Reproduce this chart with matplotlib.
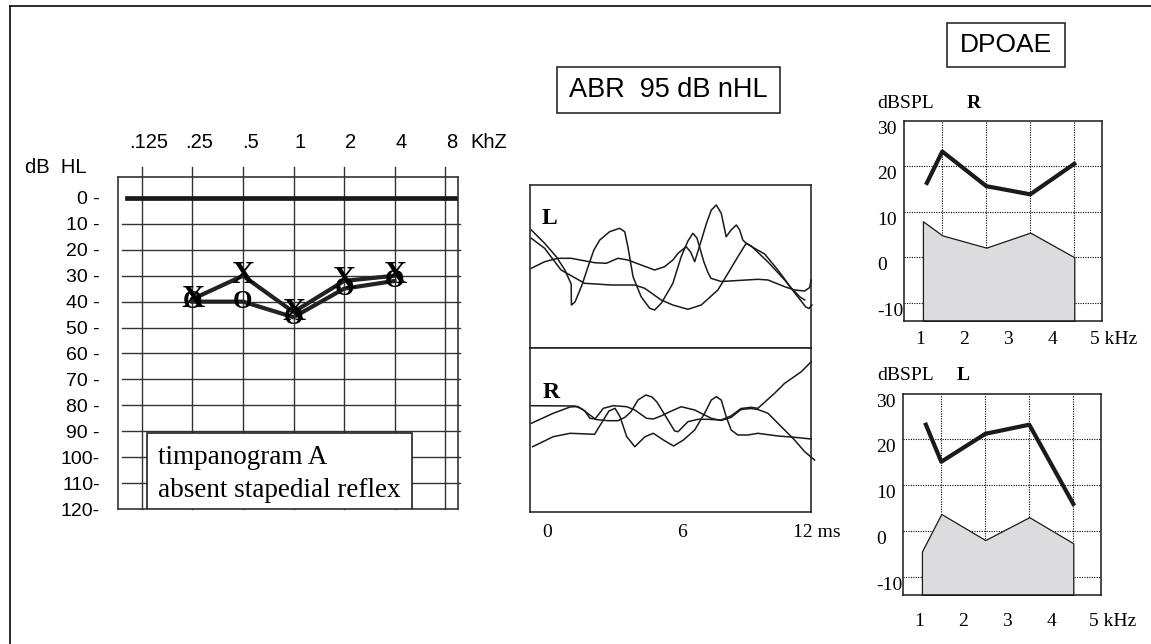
import matplotlib
matplotlib.use("Agg")
import matplotlib.pyplot as plt
from matplotlib.patches import Rectangle
from matplotlib.lines import Line2D
from matplotlib.transforms import blended_transform_factory, ScaledTranslation
from matplotlib.ticker import NullLocator

SANS = "Liberation Sans"
SERIF = "Liberation Serif"
plt.rcParams["font.family"] = [SANS, "DejaVu Sans"]

# ---------------- Audiogram (dB HL) ----------------
freq_khz = [0.25, 0.5, 1, 2, 4]
right_ear_o = [40, 40, 46, 35, 32]
left_ear_x = [39, 30, 44, 32, 30]
audio_freq_ticks = [0.125, 0.25, 0.5, 1, 2, 4, 8]
audio_freq_labels = [".125", ".25", ".5", "1", "2", "4", "8"]
hl_ticks = [0, 10, 20, 30, 40, 50, 60, 70, 80, 90, 100, 110, 120]
hl_labels = ["0 -", "10 -", "20 -", "30 -", "40 -", "50 -", "60 -", "70 -",
             "80 -", "90 -", "100-", "110-", "120-"]

# ---------------- ABR 95 dB nHL (time ms, amplitude a.u.) ----------------
abr_L1_t = [-0.68, -0.09, 0.43, 0.81, 1.09, 1.10, 1.26, 1.57, 1.84, 2.10, 2.36, 2.80,
            3.24, 3.47, 3.61, 3.84, 4.20, 4.58, 4.80, 5.09, 5.39, 5.61, 5.98, 6.28,
            6.50, 6.68, 6.81, 6.99, 7.16, 7.30, 7.76, 8.36, 9.39, 9.84, 10.58, 11.02,
            11.47, 11.69, 11.76]
abr_L1_v = [3.65, 2.32, 0.98, -0.35, -1.75, -3.85, -3.55, -1.85, -0.02, 1.65, 2.65, 3.48,
            3.82, 3.48, 1.98, -1.02, -3.02, -4.18, -4.35, -3.68, -2.55, -1.68, 0.98, 2.55,
            3.32, 2.85, 1.85, 0.45, -0.55, -1.18, -1.50, -1.42, -1.28, -1.35, -2.02, -2.35,
            -2.45, -2.10, -1.35]
abr_L2_t = [-0.68, -0.09, 0.50, 1.09, 2.13, 2.65, 3.17, 3.61, 4.20, 4.80, 5.24, 5.61,
            5.84, 6.20, 6.40, 6.58, 6.88, 7.10, 7.32, 7.54, 7.76, 7.98, 8.20, 8.43,
            8.58, 8.72, 8.87, 9.24, 9.69, 10.28, 10.87, 11.26, 11.47]
abr_L2_v = [-0.18, 0.48, 0.82, 0.82, 0.38, 0.32, 0.82, 0.65, 0.15, -0.35, -0.02, 0.65,
            1.32, 1.98, 1.45, 0.48, 2.65, 4.30, 5.65, 6.15, 5.32, 2.98, 3.65, 4.15,
            3.65, 2.65, 2.32, 1.82, 1.25, -0.35, -2.15, -3.05, -3.35]
abr_L3_t = [-0.68, -0.09, 0.64, 1.69, 2.87, 3.91, 4.36, 5.09, 5.61, 6.28, 6.87, 7.61,
            8.06, 8.50, 8.87, 9.09, 9.84, 10.58, 11.17, 11.52, 11.66, 11.79]
abr_L3_v = [2.82, 1.82, -0.35, -1.68, -1.85, -1.85, -2.18, -3.35, -3.85, -4.28, -3.85, -2.35,
            -0.68, 0.98, 2.32, 2.05, 0.45, -1.35, -3.05, -4.05, -4.20, -3.85]

abr_R1_t = [-0.68, 1.26, 1.57, 1.92, 2.19, 2.72, 3.17, 3.48, 3.75, 4.06, 4.41, 4.68,
            4.90, 5.12, 5.39, 5.69, 5.84, 6.28, 6.73, 7.17, 7.75, 8.19, 8.64, 9.08,
            9.39, 10.13, 10.58, 11.32, 11.76]
abr_R1_v = [2.43, 2.40, 2.10, 1.50, 1.05, 0.93, 0.93, 1.27, 1.83, 3.00, 3.50, 3.30,
            2.80, 2.00, 1.00, -0.10, -0.17, 0.83, 1.07, 1.07, 1.00, 1.40, 2.15, 2.27,
            2.17, 3.67, 4.67, 5.83, 6.83]
abr_R2_t = [-0.68, 0.29, 1.04, 1.39, 1.70, 1.92, 2.15, 2.52, 2.96, 3.56, 3.92, 4.44,
            4.74, 5.08, 5.48, 5.98, 6.58, 7.02, 7.32, 7.75, 8.19, 8.64, 9.08, 9.39,
            9.84, 10.43, 11.02, 11.47, 11.91]
abr_R2_v = [0.67, 1.67, 2.30, 2.35, 1.90, 1.17, 1.10, 2.17, 2.43, 2.33, 2.00, 1.17,
            1.10, 1.40, 1.83, 2.33, 2.00, 1.50, 1.17, 0.95, 1.25, 2.05, 2.15, 2.05,
            1.67, 0.33, -1.00, -2.17, -3.00]
abr_R3_t = [-0.62, 0.29, 1.04, 2.13, 2.52, 2.77, 3.04, 3.26, 3.56, 3.92, 4.37, 4.74,
            5.19, 5.64, 6.08, 6.58, 7.02, 7.32, 7.54, 7.76, 7.98, 8.20, 8.50, 8.94,
            9.39, 10.28, 11.02, 11.76]
abr_R3_v = [-1.67, -0.67, -0.33, -0.43, 1.00, 1.90, 2.17, 1.33, -0.67, -1.67, -0.67, -0.33,
            -1.00, -1.60, -1.00, 0.00, 1.67, 3.00, 3.33, 3.00, 1.33, 0.00, -0.50, -0.50,
            -0.33, -0.60, -0.73, -0.90]
abr_time_ticks = [0, 6, 12]
abr_time_labels = ["0", "6", "12 ms"]

# ---------------- DPOAE (dB SPL vs kHz) ----------------
dp_resp_f = [1.15, 1.5, 2.5, 3.5, 4.5]
dp_noise_f = [1.06, 1.5, 2.5, 3.5, 4.5]
dp_resp_R = [16.3, 23.2, 15.6, 13.8, 20.5]
dp_noise_R = [7.9, 4.8, 2.1, 5.4, 0.0]
dp_resp_L = [23.2, 15.1, 21.2, 23.2, 5.9]
dp_noise_L = [-4.5, 3.7, -2.0, 3.0, -2.7]
dp_yticks = [30, 20, 10, 0, -10]
dp_xticks = [1, 2, 3, 4, 5]
dp_xlabels = ["1", "2", "3", "4", "5 kHz"]

# ---------------- figure ----------------
W, H, DPI = 1151, 644, 100
fig = plt.figure(figsize=(W / DPI, H / DPI), dpi=DPI)
fig.patch.set_facecolor("white")
INK = "#1a1a1a"


def px_rect(x0, y0, x1, y1):
    return [x0 / W, 1 - y1 / H, (x1 - x0) / W, (y1 - y0) / H]


def fx(x):
    return x / W


def fy(y):
    return 1 - y / H


def px_offset(dx, dy=0):
    return ScaledTranslation(dx / DPI, dy / DPI, fig.dpi_scale_trans)


def titled_box(x0, y0, x1, y1, label, size):
    fig.add_artist(Rectangle((fx(x0), fy(y1)), (x1 - x0) / W, (y1 - y0) / H,
                             transform=fig.transFigure, facecolor="white",
                             edgecolor=INK, lw=1.1))
    fig.text(fx((x0 + x1) / 2), fy((y0 + y1) / 2), label, ha="center",
             va="center", size=size, color="black")


# outer frame (left and top rules)
fig.add_artist(Line2D([fx(10), fx(10)], [fy(6), 0], transform=fig.transFigure,
                      color=INK, lw=1.3))
fig.add_artist(Line2D([fx(10), 1], [fy(6), fy(6)], transform=fig.transFigure,
                      color=INK, lw=1.3))

# ---- audiogram ----
ax = fig.add_axes(px_rect(118, 177, 458, 509))
ax.set_xscale("log", base=2)
ax.set_xlim(2 ** -3.475, 2 ** 3.257)
ax.set_ylim(120, -8.1)
ax.xaxis.set_major_locator(NullLocator())
ax.xaxis.set_minor_locator(NullLocator())
ax.set_yticks(hl_ticks, hl_labels)
ax.tick_params(axis="y", length=0, pad=13, labelsize=14)
for sp in ax.spines.values():
    sp.set_color("#333333")
    sp.set_linewidth(1.2)
for f in audio_freq_ticks:
    ax.axvline(f, ymin=0, ymax=1.03, color="#333333", lw=1.0, clip_on=False, zorder=1)
for v in hl_ticks[1:-1]:
    ax.axhline(v, xmin=0.013, xmax=1.006, color="#333333", lw=1.0, clip_on=False, zorder=1)
ax.axhline(0, xmin=0.026, xmax=1.0, color=INK, lw=3.4, zorder=2)

ax.plot(freq_khz, left_ear_x, color="#222222", lw=3.0, zorder=3)
ax.plot(freq_khz, right_ear_o, color="#222222", lw=3.0, zorder=3)
for f, v in zip(freq_khz, left_ear_x):
    ax.text(f, v, "X", family=SERIF, weight="bold", size=23, ha="center",
            va="center", zorder=4)
for f, v in zip(freq_khz, right_ear_o):
    ax.text(f, v, "O", family=SERIF, weight="bold", size=18, ha="center",
            va="center", zorder=4)

ftrans = blended_transform_factory(ax.transData, ax.transAxes) + px_offset(7)
for f, lbl in zip(audio_freq_ticks, audio_freq_labels):
    ax.text(f, 1.105, lbl, transform=ftrans, ha="center", va="center", size=14.5)
ax.text(1.035, 1.105, "KhZ", transform=ax.transAxes, ha="left", va="center", size=14.5)
fig.text(fx(25), fy(167), "dB  HL", ha="left", va="center", size=14.5)

ax.add_patch(Rectangle((0.085, 0.0), 0.78, 0.229, transform=ax.transAxes,
                       facecolor="white", edgecolor="#222222", lw=1.2, zorder=5))
ax.text(0.118, 0.154, "timpanogram A", transform=ax.transAxes, ha="left",
        va="center", family=SERIF, size=19.5, zorder=6)
ax.text(0.118, 0.057, "absent stapedial reflex", transform=ax.transAxes, ha="left",
        va="center", family=SERIF, size=19.5, zorder=6)

# ---- ABR ----
titled_box(556.7, 67.3, 780, 112.7, "ABR  95 dB nHL", 19.5)
abr_L = fig.add_axes(px_rect(530, 185, 811, 348))
abr_R = fig.add_axes(px_rect(530, 348, 811, 512))
for a, lim in ((abr_L, 8.15), (abr_R, 8.2)):
    a.set_xlim(-0.74, 11.75)
    a.set_ylim(-lim, lim)
    a.set_xticks([])
    a.set_yticks([])
    for sp in a.spines.values():
        sp.set_color(INK)
        sp.set_linewidth(1.1)

for t, v in ((abr_L1_t, abr_L1_v), (abr_L2_t, abr_L2_v), (abr_L3_t, abr_L3_v)):
    abr_L.plot(t, v, color=INK, lw=1.1, clip_on=False)
for t, v in ((abr_R1_t, abr_R1_v), (abr_R2_t, abr_R2_v), (abr_R3_t, abr_R3_v)):
    abr_R.plot(t, v, color=INK, lw=1.1, clip_on=False)

abr_L.text(0.069, 0.794, "L", transform=abr_L.transAxes, ha="center", va="center",
           family=SERIF, weight="bold", size=17)
abr_R.text(0.075, 0.729, "R", transform=abr_R.transAxes, ha="center", va="center",
           family=SERIF, weight="bold", size=17)
ttrans = blended_transform_factory(abr_R.transData, abr_R.transAxes)
for t, lbl in zip(abr_time_ticks, abr_time_labels):
    abr_R.text(t, -0.122, lbl, transform=ttrans, ha="center", va="center",
               family=SERIF, size=14)

# ---- DPOAE ----
titled_box(946.7, 22.7, 1065, 66.7, "DPOAE", 19)


def dpoae_panel(rect, resp, noise, ear, head_y, ear_x, xlab_y):
    a = fig.add_axes(rect)
    a.set_xlim(0.63, 5.13)
    a.set_ylim(-14.0, 29.9)
    a.set_axisbelow(True)
    a.set_xticks([1.5, 2.5, 3.5, 4.5])
    a.set_yticks([-10, 0, 10, 20])
    a.tick_params(length=0, labelleft=False, labelbottom=False)
    a.grid(True, color="black", linestyle=(0, (1, 1.2)), lw=0.8)
    for sp in a.spines.values():
        sp.set_color(INK)
        sp.set_linewidth(1.1)
    bottom = a.get_ylim()[0]
    a.fill_between(dp_noise_f, noise, bottom, facecolor="#dcdcde",
                   edgecolor=INK, lw=0.9, zorder=2)
    a.plot(dp_resp_f, resp, color=INK, lw=3.0, zorder=3)
    ytr = blended_transform_factory(a.transAxes, a.transData)
    for v in dp_yticks:
        a.text(-0.137, v, str(v), transform=ytr, ha="left", va="top",
               family=SERIF, size=14, clip_on=False)
    xtr = blended_transform_factory(a.transData, a.transAxes)
    for f, lbl in zip(dp_xticks, dp_xlabels):
        if lbl == dp_xlabels[-1]:
            a.text(f, xlab_y, lbl, transform=xtr + px_offset(-6), ha="left",
                   va="center", family=SERIF, size=14)
        else:
            a.text(f, xlab_y, lbl, transform=xtr, ha="center", va="center",
                   family=SERIF, size=14)
    fig.text(fx(877), fy(head_y), "dBSPL", ha="left", va="center",
             family=SERIF, size=14)
    fig.text(fx(ear_x), fy(head_y), ear, ha="center", va="center",
             family=SERIF, weight="bold", size=14)
    return a


dpoae_panel(px_rect(904, 121, 1102, 321), dp_resp_R, dp_noise_R, "R", 104, 974, -0.093)
dpoae_panel(px_rect(903, 394, 1101, 595), dp_resp_L, dp_noise_L, "L", 376, 963, -0.133)

fig.savefig("out.png", dpi=DPI, facecolor="white")
